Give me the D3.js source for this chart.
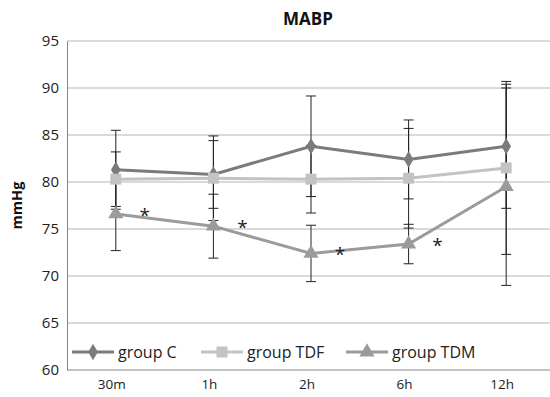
<!DOCTYPE html>
<html>
<head>
<meta charset="utf-8">
<script src="https://cdn.jsdelivr.net/npm/d3@7"></script>
<style>
  body { margin: 0; background: #fff; }
  text { font-family: "Open Sans", "Liberation Sans", sans-serif; }
</style>
</head>
<body>
<div id="plot"></div>
<script>
// Data
const times = ["30m", "1h", "2h", "6h", "12h"];
const groupC = [81.3, 80.8, 83.8, 82.4, 83.8];
const groupCsd = [4.2, 3.6, 5.35, 4.2, 6.6];
const groupTDF = [80.3, 80.4, 80.3, 80.4, 81.5];
const groupTDFsd = [2.9, 4.5, 3.6, 5.3, 9.2];
const groupTDM = [76.6, 75.3, 72.4, 73.4, 79.5];
const groupTDMsd = [3.9, 3.4, 3.0, 2.1, 10.5];
const starAt = ["30m", "1h", "2h", "6h"];
const yTicks = [60, 65, 70, 75, 80, 85, 90, 95];

const width = 550, height = 397;
const margin = { top: 41, bottom: 27, left: 67, right: -5 };

const series = [
  { name: "group C", values: groupC, sd: groupCsd, color: "#7b7b7b", shape: d3.symbolDiamond, size: 80 },
  { name: "group TDF", values: groupTDF, sd: groupTDFsd, color: "#c3c3c3", shape: d3.symbolSquare, size: 120 },
  { name: "group TDM", values: groupTDM, sd: groupTDMsd, color: "#9b9b9b", shape: d3.symbolTriangle, size: 100 }
];

const svg = d3.select('#plot')
  .append('svg')
  .attr('width', width)
  .attr('height', height);

// Scales
const x = d3.scaleBand()
  .domain(times)
  .range([margin.left, width - margin.right]);

const y = d3.scaleLinear()
  .domain([60, 95])
  .range([height - margin.bottom, margin.top]);

const cx = d => x(d) + x.bandwidth() / 2;

// Gridlines
svg.append('g')
  .selectAll('line')
  .data(yTicks)
  .join('line')
  .attr('x1', margin.left)
  .attr('x2', width)
  .attr('y1', d => y(d))
  .attr('y2', d => y(d))
  .attr('stroke', d => d === 60 ? '#868686' : '#b5b5b5')
  .attr('stroke-width', 1);

// Y axis
const yAxis = svg.append('g')
  .attr('transform', `translate(${margin.left},0)`)
  .call(d3.axisLeft(y).tickValues(yTicks).tickSize(0).tickPadding(8));
yAxis.select('.domain').attr('stroke', '#868686');
yAxis.selectAll('text').style('font-size', '15px').attr('fill', '#222');

// X axis (labels only)
const xAxis = svg.append('g')
  .attr('transform', `translate(-4,${height - margin.bottom})`)
  .call(d3.axisBottom(x).tickSize(0).tickPadding(9));
xAxis.select('.domain').remove();
xAxis.selectAll('text').style('font-size', '13.5px').attr('fill', '#222');

// Title
svg.append('text')
  .attr('x', 308)
  .attr('y', 25)
  .attr('text-anchor', 'middle')
  .style('font-size', '17px')
  .style('font-weight', 'bold')
  .attr('fill', '#111')
  .text('MABP');

// Y axis title
svg.append('text')
  .attr('transform', `translate(22,${(margin.top + height - margin.bottom) / 2}) rotate(-90)`)
  .attr('text-anchor', 'middle')
  .style('font-size', '14.5px')
  .style('font-weight', 'bold')
  .attr('fill', '#111')
  .text('mmHg');

const line = d3.line()
  .x((d, i) => cx(times[i]))
  .y(d => y(d));

// Lines
series.forEach(s => {
  svg.append('path')
    .datum(s.values)
    .attr('d', line)
    .attr('fill', 'none')
    .attr('stroke', s.color)
    .attr('stroke-width', 3);
});

// Error bars
series.forEach(s => {
  const g = svg.append('g');
  const pts = s.values.map((v, i) => ({ t: times[i], lo: v - s.sd[i], hi: v + s.sd[i] }));
  g.selectAll('line.v')
    .data(pts)
    .join('line')
    .attr('x1', d => cx(d.t)).attr('x2', d => cx(d.t))
    .attr('y1', d => y(d.lo)).attr('y2', d => y(d.hi))
    .attr('stroke', '#222').attr('stroke-width', 1);
  ['lo', 'hi'].forEach(k => {
    g.selectAll('line.' + k)
      .data(pts)
      .join('line')
      .attr('x1', d => cx(d.t) - 5).attr('x2', d => cx(d.t) + 5)
      .attr('y1', d => y(d[k])).attr('y2', d => y(d[k]))
      .attr('stroke', '#222').attr('stroke-width', 1);
  });
});

// Markers
series.forEach(s => {
  svg.append('g')
    .selectAll('path')
    .data(s.values)
    .join('path')
    .attr('transform', (d, i) => `translate(${cx(times[i])},${y(d)})`)
    .attr('d', d3.symbol().type(s.shape).size(s.size))
    .attr('fill', s.color);
});

// Significance stars
svg.append('g')
  .selectAll('text')
  .data(starAt)
  .join('text')
  .attr('x', d => cx(d) + 29)
  .attr('y', d => y(groupTDM[times.indexOf(d)]) + 8)
  .attr('text-anchor', 'middle')
  .style('font-size', '19px')
  .attr('fill', '#222')
  .text('*');

// Legend
const legendX = [72, 201, 346];
const legend = svg.append('g');
series.forEach((s, i) => {
  const lg = legend.append('g').attr('transform', `translate(${legendX[i]},352)`);
  lg.append('line')
    .attr('x1', 0).attr('x2', 42)
    .attr('stroke', s.color).attr('stroke-width', 3);
  lg.append('path')
    .attr('transform', 'translate(21,0)')
    .attr('d', d3.symbol().type(s.shape).size(s.size))
    .attr('fill', s.color);
  lg.append('text')
    .attr('x', 46)
    .attr('y', 5.5)
    .style('font-size', '16px')
    .attr('fill', '#222')
    .text(s.name);
});
</script>
</body>
</html>
